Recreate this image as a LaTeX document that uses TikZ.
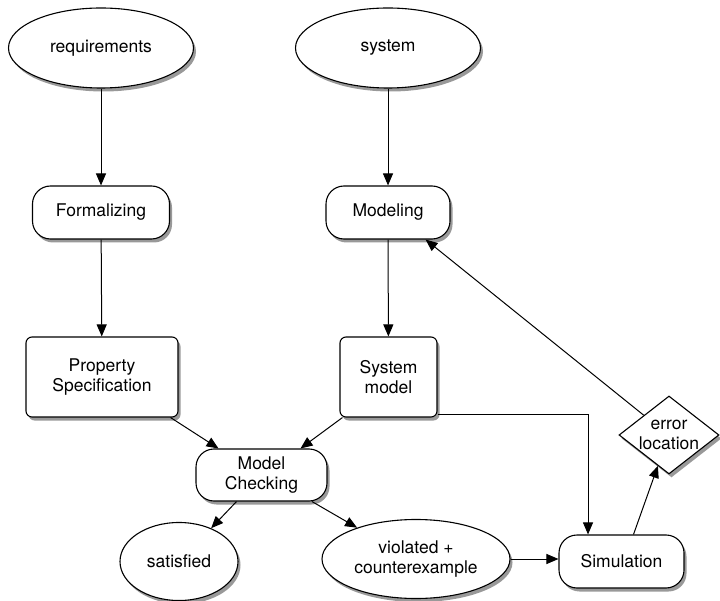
\documentclass[tikz,border=0pt]{standalone}
\usepackage{fontspec}
\setmainfont{TeX Gyre Heros}
\usetikzlibrary{shapes.geometric,shadows,arrows.meta,calc}
\begin{document}
\begin{tikzpicture}[x=1pt,y=1pt,
  every node/.style={font=\fontsize{17.5}{20}\selectfont, align=center, inner sep=0pt},
  shad/.style={drop shadow={shadow xshift=2.5pt,shadow yshift=-3.5pt,opacity=0.4,fill=black}},
  ell/.style={ellipse, draw=black, line width=1.1pt, fill=white, shad},
  pill/.style={rectangle, rounded corners=18pt, draw=black, line width=1.1pt, fill=white, shad},
  boxx/.style={rectangle, rounded corners=6pt, draw=black, line width=1.1pt, fill=white, shad},
  dia/.style={diamond, draw=black, line width=1.1pt, fill=white, shad},
  arr/.style={-{Triangle[length=12pt,width=10pt]}, line width=1pt}
]
\useasboundingbox (0,0) rectangle (720,-601);

\node[ell, minimum width=185, minimum height=80] (req) at (101,-48) {requirements};
\node[ell, minimum width=185, minimum height=80] (sys) at (388,-48) {system};
\node[pill, minimum width=137, minimum height=53] (form) at (101,-212.5) {Formalizing};
\node[pill, minimum width=124, minimum height=53] (mod) at (388,-212.5) {Modeling};
\node[boxx, minimum width=152, minimum height=80] (ps) at (102,-377) {Property\\Specification};
\node[boxx, minimum width=97, minimum height=80] (sm) at (388.5,-377) {System\\model};
\node[pill, minimum width=131, minimum height=52] (mc) at (261.5,-475) {Model\\Checking};
\node[ell, minimum width=118, minimum height=78] (sat) at (179,-561.5) {satisfied};
\node[ell, minimum width=188, minimum height=79] (vio) at (416,-559) {violated +\\counterexample};
\node[pill, minimum width=125, minimum height=53] (sim) at (621.5,-561.5) {Simulation};
\node[dia, minimum width=100, minimum height=78] (err) at (669,-435) {};
\node (errt) at (err) {error\\location};

\draw[arr] (req) -- (form);
\draw[arr] (sys) -- (mod);
\draw[arr] (form) -- (ps);
\draw[arr] (mod) -- (sm);
\draw[arr] ([xshift=-8pt]ps.south east) -- ([xshift=-43pt]mc.north);
\draw[arr] ([xshift=3pt]sm.south west) -- ([xshift=39pt]mc.north);
\draw[arr] ([yshift=3pt]sm.south east) -| ([xshift=-33.5pt]sim.north);
\draw[arr] ([xshift=-25pt]mc.south) -- (sat.46);
\draw[arr] ([xshift=50.5pt]mc.south) -- (vio.152);
\draw[arr] (vio.east) -- (sim.west |- vio.east);
\draw[arr] ([xshift=12pt]sim.north) -- ($(err.south)!0.22!(err.west)$);
\draw[arr] (err.north west) -- ([xshift=-25pt]mod.south east);
\end{tikzpicture}
\end{document}
